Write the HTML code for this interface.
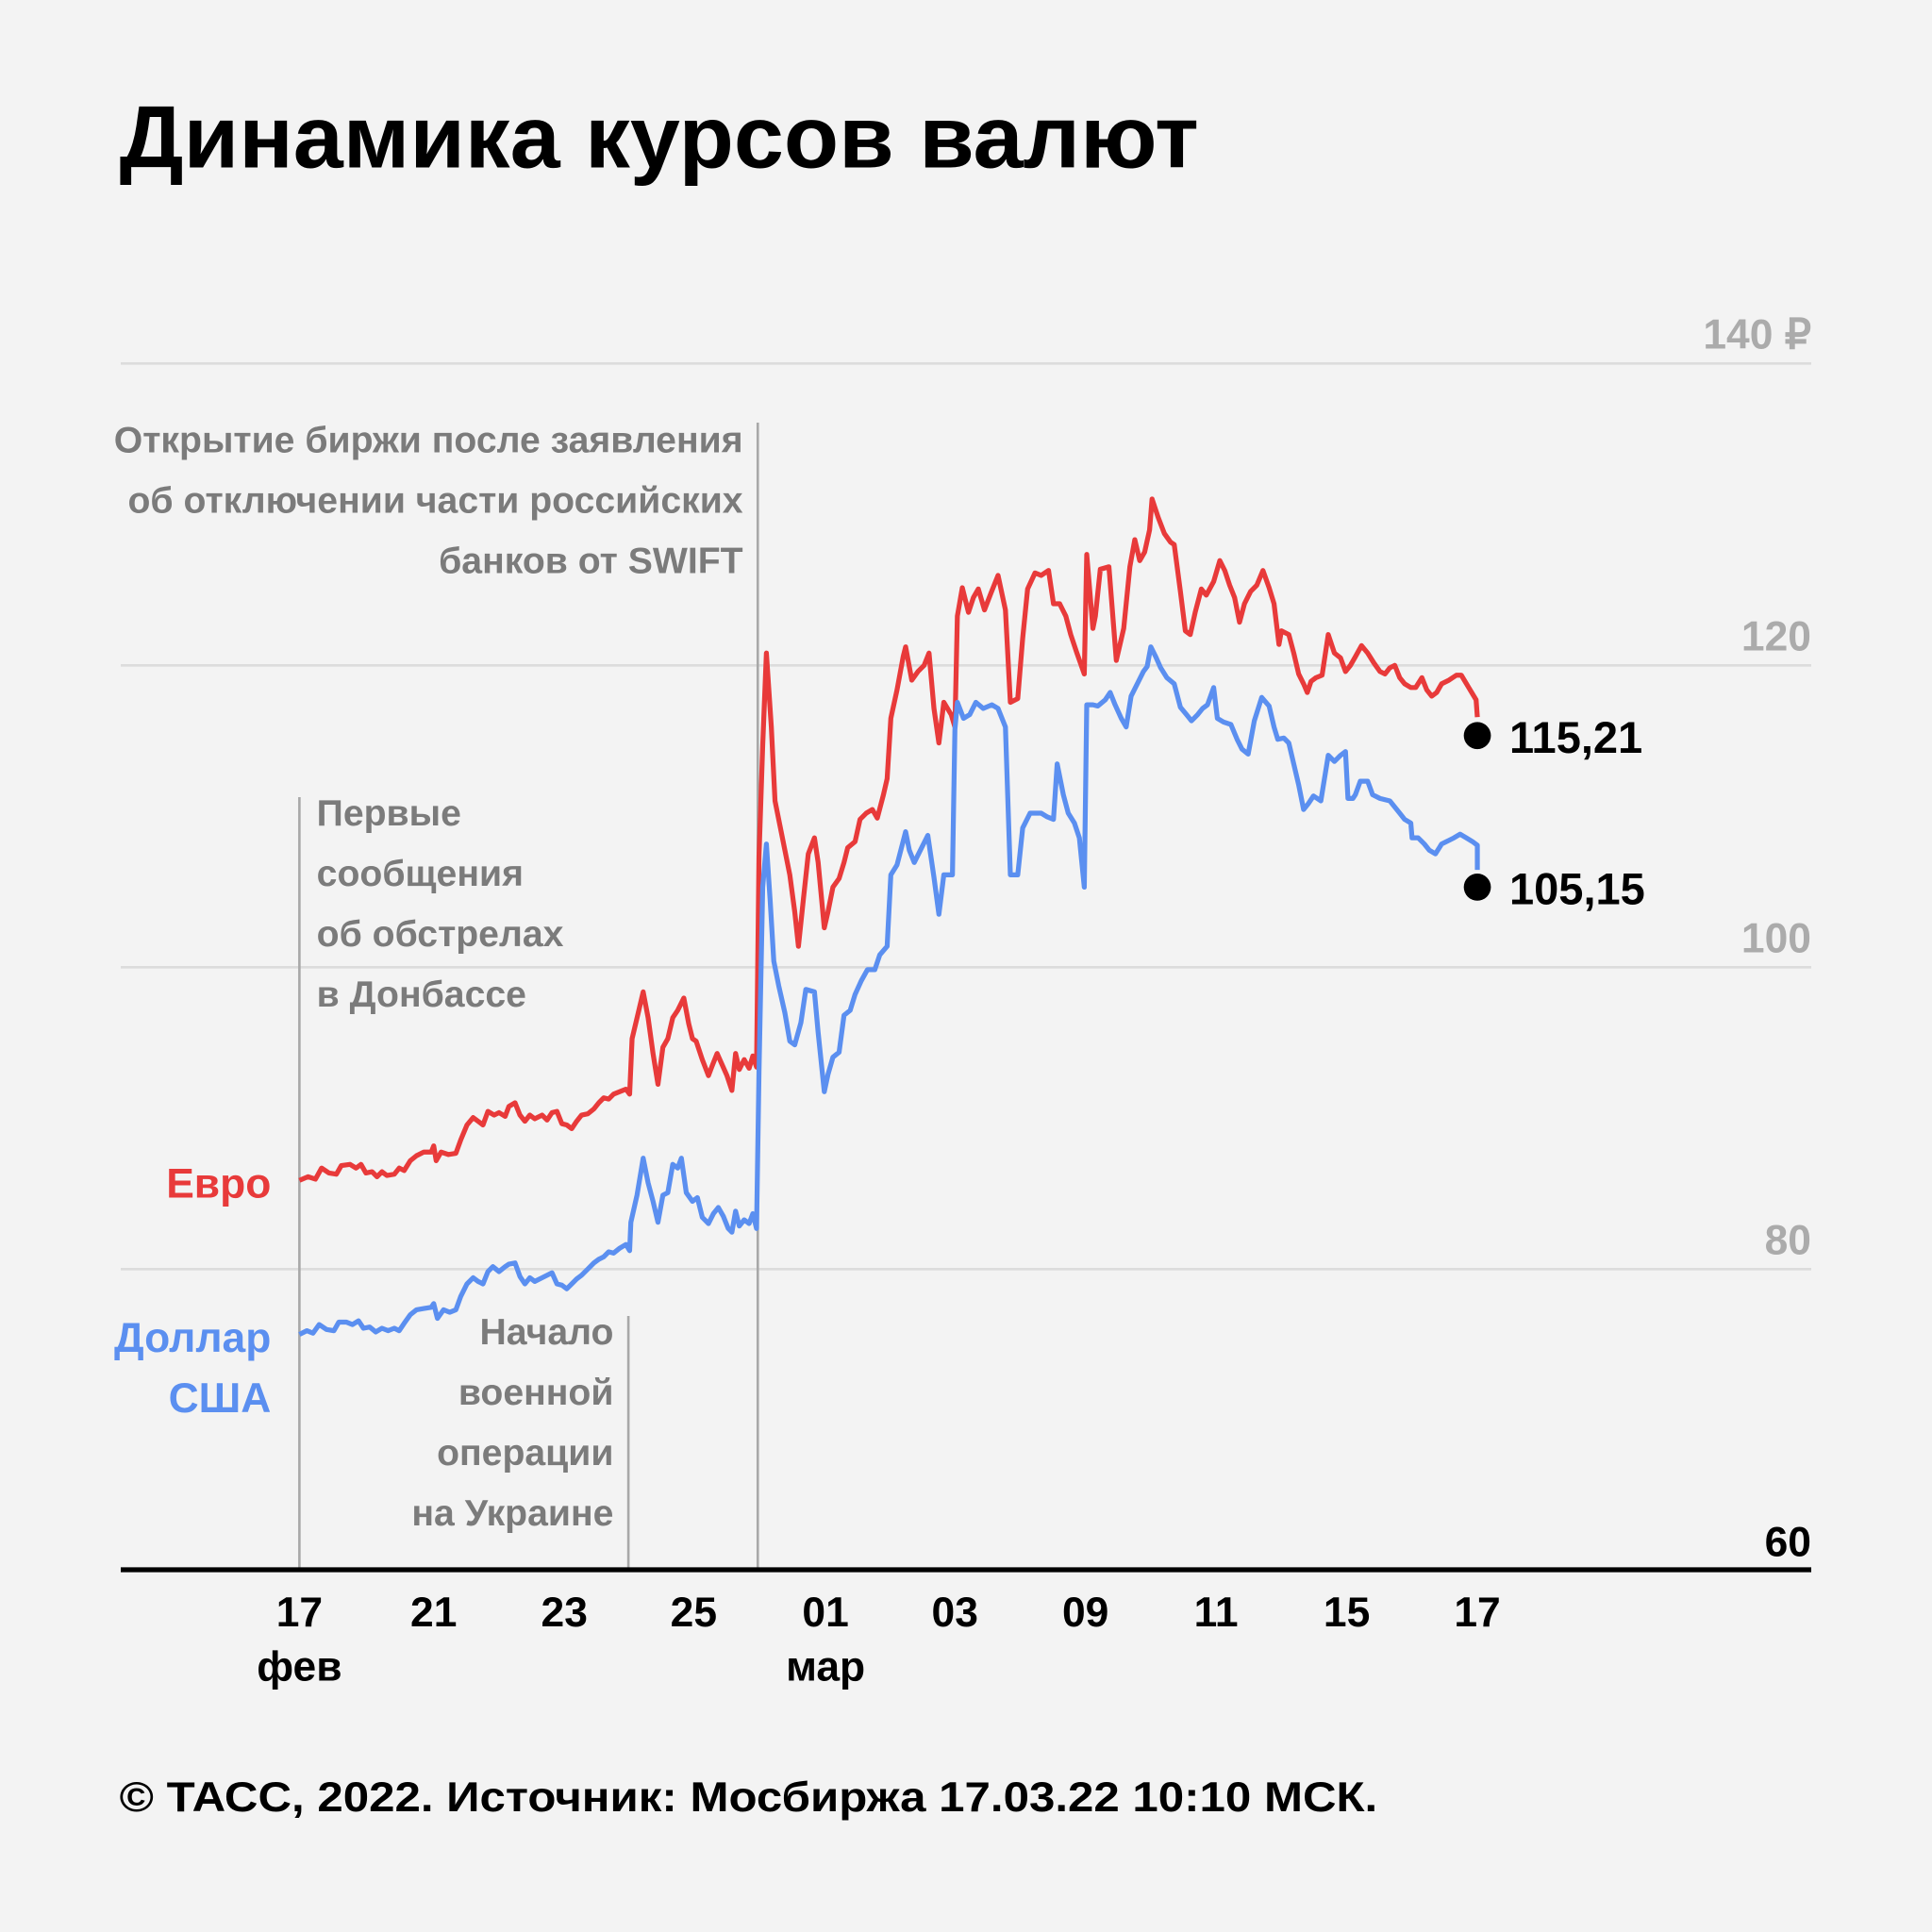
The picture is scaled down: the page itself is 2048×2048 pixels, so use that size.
<!DOCTYPE html>
<html><head><meta charset="utf-8"><style>
html,body{margin:0;padding:0;background:#f3f3f3}
svg{display:block}
text{font-family:"Liberation Sans",sans-serif}
</style></head><body>
<svg width="2048" height="2048" viewBox="0 0 1568 1568" xmlns="http://www.w3.org/2000/svg">
<rect width="1568" height="1568" fill="#f3f3f3"/>
<text x="97" y="136" font-size="72" font-weight="bold" fill="#000" textLength="876" lengthAdjust="spacingAndGlyphs">Динамика курсов валют</text>
<g stroke="#dcdcdc" stroke-width="2">
<line x1="98" y1="295" x2="1470" y2="295"/>
<line x1="98" y1="540" x2="1470" y2="540"/>
<line x1="98" y1="785" x2="1470" y2="785"/>
<line x1="98" y1="1030" x2="1470" y2="1030"/>
</g>
<g font-size="34" fill="#ababab" text-anchor="end" font-weight="bold">
<text x="1470" y="283">140 ₽</text>
<text x="1470" y="528">120</text>
<text x="1470" y="773">100</text>
<text x="1470" y="1018">80</text>
</g>
<text x="1470" y="1263" font-size="34" fill="#000" text-anchor="end" font-weight="bold">60</text>
<g stroke="#a8a8a8" stroke-width="2">
<line x1="243" y1="647" x2="243" y2="1274"/>
<line x1="510" y1="1068" x2="510" y2="1274"/>
<line x1="615" y1="343" x2="615" y2="1274"/>
</g>
<g font-size="30" fill="#7b7b7b" font-weight="bold">
<g text-anchor="end">
<text x="603" y="367">Открытие биржи после заявления</text>
<text x="603" y="416">об отключении части российских</text>
<text x="603" y="465">банков от SWIFT</text>
<text x="498" y="1091">Начало</text>
<text x="498" y="1140">военной</text>
<text x="498" y="1189">операции</text>
<text x="498" y="1238">на Украине</text>
</g>
<text x="257" y="670">Первые</text>
<text x="257" y="719">сообщения</text>
<text x="257" y="768">об обстрелах</text>
<text x="257" y="817">в Донбассе</text>
</g>
<line x1="98" y1="1274" x2="1470" y2="1274" stroke="#000" stroke-width="4"/>
<g font-size="34" fill="#000" text-anchor="middle" font-weight="bold">
<text x="243" y="1320">17</text><text x="243" y="1364">фев</text>
<text x="352" y="1320">21</text>
<text x="458" y="1320">23</text>
<text x="563" y="1320">25</text>
<text x="670" y="1320">01</text><text x="670" y="1364">мар</text>
<text x="775" y="1320">03</text>
<text x="881" y="1320">09</text>
<text x="987" y="1320">11</text>
<text x="1093" y="1320">15</text>
<text x="1199" y="1320">17</text>
</g>
<g font-size="34" font-weight="bold" text-anchor="end">
<text x="220" y="972" fill="#e83a3a">Евро</text>
<text x="220" y="1097" fill="#5b8ff0">Доллар</text>
<text x="220" y="1146" fill="#5b8ff0">США</text>
</g>
<polyline fill="none" stroke="#e83a3a" stroke-width="4" stroke-linejoin="round" points="243,958 250,955 256,957 261,948 267,952 273,953 277,946 284,945 289,948 293,945 297,952 302,951 306,955 310,951 314,954 320,953 324,948 328,950 333,942 338,938 344,935 350,935 352,930 354,942 358,935 364,937 370,936 374,925 379,913 384,907 388,910 392,913 396,902 401,905 405,903 410,906 413,898 418,895 422,905 426,910 430,905 434,908 440,905 444,909 448,903 452,902 456,912 460,913 464,916 468,910 472,905 477,904 482,900 486,895 490,891 494,892 498,888 503,886 508,884 511,888 513,843 518,822 522,805 526,826 530,855 534,880 538,850 542,843 546,826 550,820 555,810 559,831 562,843 565,845 570,860 575,873 578,865 582,855 586,864 590,873 594,885 597,855 600,868 604,860 608,867 611,857 614,866 616,695 619,605 622,530 626,590 629,650 633,670 637,690 641,710 645,740 648,768 652,730 656,693 661,680 664,700 669,753 672,740 676,720 681,713 685,700 688,688 694,683 698,665 703,660 708,657 712,664 717,645 720,632 723,583 728,560 733,533 735,525 740,552 745,545 750,540 754,530 758,575 762,603 766,570 772,580 775,590 777,500 781,477 786,497 790,485 794,478 799,495 804,482 810,467 816,495 820,570 826,567 830,518 834,478 840,465 845,467 851,463 855,490 860,490 865,500 869,515 874,530 880,547 882,450 887,510 889,500 893,462 900,460 906,536 912,510 917,460 921,438 925,455 929,448 933,430 935,405 940,420 945,433 950,440 953,442 958,480 962,512 966,515 970,497 975,478 979,483 985,472 990,455 994,463 998,475 1002,485 1006,505 1010,490 1015,480 1020,475 1025,463 1030,477 1034,490 1038,523 1040,512 1046,515 1050,530 1054,547 1058,555 1061,562 1064,553 1068,550 1073,548 1078,515 1083,530 1088,534 1092,545 1096,540 1100,533 1105,524 1110,530 1115,538 1120,545 1124,547 1128,542 1132,540 1136,550 1140,555 1145,558 1149,558 1154,550 1158,560 1162,565 1166,562 1170,555 1176,552 1182,548 1186,548 1192,558 1198,568 1199,582"/>
<polyline fill="none" stroke="#5b8ff0" stroke-width="4" stroke-linejoin="round" points="243,1083 249,1080 254,1082 259,1075 265,1079 271,1080 275,1073 281,1073 286,1075 291,1072 295,1078 300,1077 305,1081 310,1078 315,1080 320,1078 324,1080 328,1074 333,1067 338,1063 344,1062 350,1061 352,1058 355,1070 360,1063 365,1065 370,1063 374,1052 379,1042 384,1037 388,1040 392,1042 396,1032 400,1028 405,1032 410,1028 413,1026 418,1025 422,1036 426,1042 430,1037 434,1040 440,1037 444,1035 448,1033 452,1042 456,1043 460,1046 464,1042 468,1038 472,1035 477,1030 482,1025 486,1022 490,1020 494,1016 498,1017 503,1013 508,1010 511,1015 512,992 517,970 522,940 526,960 530,975 534,992 538,970 542,968 546,945 550,948 553,940 557,968 562,975 566,972 570,988 575,993 579,985 583,980 587,987 591,997 594,1000 597,983 600,995 604,990 608,993 611,985 614,997 616,870 619,720 622,685 625,730 628,780 632,800 637,822 641,845 645,848 650,830 654,803 661,805 664,838 669,886 672,872 676,858 681,854 685,824 690,820 694,807 699,796 704,787 710,787 714,775 720,768 723,710 728,702 735,675 738,690 742,700 747,690 753,678 758,712 762,742 766,710 773,710 775,592 777,570 782,583 787,580 792,570 798,575 805,572 810,575 816,590 820,710 826,710 830,672 836,660 845,660 850,663 855,665 858,620 863,645 867,660 872,668 876,680 880,720 882,572 887,572 891,573 897,568 901,562 905,572 910,583 914,590 918,565 924,553 928,545 931,541 934,525 938,533 942,542 947,550 953,555 958,574 963,580 967,585 972,580 976,575 980,572 985,558 988,583 993,586 999,588 1004,600 1008,608 1013,612 1018,585 1024,566 1030,573 1034,590 1037,600 1042,599 1046,603 1050,620 1054,637 1058,657 1062,652 1066,646 1072,650 1078,613 1083,618 1088,613 1092,610 1094,648 1098,648 1100,645 1104,634 1110,634 1114,645 1120,648 1128,650 1132,655 1136,660 1140,665 1145,668 1146,680 1151,680 1156,685 1160,690 1165,693 1170,685 1176,682 1180,680 1185,677 1190,680 1195,683 1199,686 1199,706"/>
<circle cx="1199" cy="597" r="11" fill="#000"/>
<circle cx="1199" cy="720" r="11" fill="#000"/>
<g font-size="36" font-weight="bold" fill="#000">
<text x="1225" y="611">115,21</text>
<text x="1225" y="734">105,15</text>
</g>
<text x="97" y="1470" font-size="34" font-weight="bold" fill="#000" textLength="1021" lengthAdjust="spacingAndGlyphs">© ТАСС, 2022. Источник: Мосбиржа 17.03.22 10:10 МСК.</text>
</svg>
</body></html>
